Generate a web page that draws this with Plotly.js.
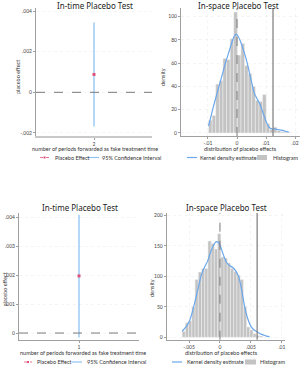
<!DOCTYPE html>
<html>
<head>
<meta charset="utf-8">
<script src="https://cdn.plot.ly/plotly-3.0.1.min.js"></script>
<style>
  html, body { margin: 0; padding: 0; background: #ffffff; }
  #chart { width: 300px; height: 366px; }
</style>
</head>
<body>
<div id="chart"></div>
<script>
// ---- In-time placebo test, treatment moved 2 periods forward ----
const periodsA = [2];
const effectA = [0.00088];
const ciLowA = [-0.00168];
const ciHighA = [0.00344];
const effectTicksA = [-0.002, 0, 0.002, 0.004];
const effectTickTextA = ['-.002', '0', '.002', '.004'];

// ---- In-time placebo test, treatment moved 1 period forward ----
const periodsB = [1];
const effectB = [0.00197];
const ciLowB = [-0.00015];
const ciHighB = [0.00408];
const effectTicksB = [0, 0.001, 0.002, 0.003, 0.004];
const effectTickTextB = ['0', '.001', '.002', '.003', '.004'];

// ---- In-space placebo distribution (upper) ----
const binWidthA = 0.00124;
const binCentersA = [-0.00918, -0.00794, -0.0067, -0.00546, -0.00422, -0.00298, -0.00174, -0.0005,
  0.00074, 0.00198, 0.00322, 0.00446, 0.0057, 0.00694, 0.00818, 0.00942, 0.01066, 0.0119,
  0.01314, 0.01438, 0.01562, 0.01686];
const binHeightsA = [11, 15, 42, 45, 64, 63, 81, 104, 67, 77, 58, 51, 40, 28, 27, 33, 8, 3, 5, 2, 1, 1];
const kdeXA = [-0.0098, -0.009, -0.008, -0.007, -0.006, -0.005, -0.004, -0.003, -0.002, -0.001, -0.0003,
  0.0004, 0.001, 0.002, 0.003, 0.004, 0.005, 0.006, 0.007, 0.008, 0.009, 0.010, 0.011, 0.012,
  0.013, 0.014, 0.015, 0.016, 0.017, 0.018];
const kdeYA = [6, 14, 24, 33, 42, 51, 60, 68, 76, 83, 85, 83, 80, 73, 65, 55, 44, 34, 29, 24, 17, 10, 5,
  3.5, 3.5, 3, 2.5, 2, 1.3, 0.6];
const actualEffectA = 0.0124;
const spreadTicksA = [-0.01, 0, 0.01, 0.02];
const spreadTickTextA = ['-.01', '0', '.01', '.02'];
const densityTicksA = [0, 20, 40, 60, 80, 100];

// ---- In-space placebo distribution (lower) ----
const binWidthB = 0.00052;
const binCentersB = [-0.00584, -0.00532, -0.0048, -0.00428, -0.00376, -0.00324, -0.00272, -0.0022,
  -0.00168, -0.00116, -0.00064, -0.00012, 0.0004, 0.00092, 0.00144, 0.00196, 0.00248, 0.003,
  0.00352, 0.00404, 0.00456, 0.00508, 0.0056, 0.00612, 0.00664];
const binHeightsB = [10, 24, 27, 50, 95, 107, 113, 113, 158, 154, 145, 170, 132, 130, 122, 113, 108,
  102, 95, 50, 17, 12, 6, 3, 2];
const kdeXB = [-0.0061, -0.0055, -0.005, -0.0045, -0.004, -0.0035, -0.003, -0.0025, -0.002, -0.0015,
  -0.001, -0.0006, -0.0002, 0.0002, 0.0006, 0.001, 0.0015, 0.002, 0.0025, 0.003, 0.0035, 0.004,
  0.0045, 0.005, 0.0055, 0.006, 0.0065, 0.007, 0.0075, 0.008];
const kdeYB = [10, 17, 25, 40, 60, 82, 102, 115, 125, 140, 152, 157, 155, 146, 134, 124, 118, 115, 110,
  100, 78, 50, 30, 18, 12, 9, 6, 4, 2, 1];
const actualEffectB = 0.006;
const spreadTicksB = [-0.005, 0, 0.005, 0.01];
const spreadTickTextB = ['-.005', '0', '.005', '.01'];
const densityTicksB = [0, 50, 100, 150, 200];

// ---- Text ----
const inTimeTitle = 'In-time Placebo Test';
const inSpaceTitle = 'In-space Placebo Test';
const effectAxisTitle = 'placebo effect';
const periodAxisTitle = 'number of periods forwarded as fake treatment time';
const densityAxisTitle = 'density';
const spreadAxisTitle = 'distribution of placebo effects';
const legendEffect = 'Placebo Effect';
const legendCI = '95% Confidence Interval';
const legendKde = 'Kernel density estimate';
const legendHist = 'Histogram';

// ---- Styling ----
const W = 300, H = 366;
const fx = p => p / W;
const fy = p => 1 - p / H;
const FONT = 'Lato, Noto Sans, sans-serif';
const TITLE_FONT = 'Noto Sans, Open Sans, sans-serif';
const ciColor = '#8ec3f5';
const dotColor = '#e0507a';
const kdeColor = '#6aa7ec';
const barColor = '#c3c3c3';
const axisColor = '#a0a0a0';
const refColor = '#7a7a7a';

function axisBase(extra) {
  return Object.assign({
    showline: true, linecolor: axisColor, linewidth: 1,
    ticks: 'outside', ticklen: 2, tickwidth: 1, tickcolor: axisColor,
    ticklabelstandoff: 0,
    tickfont: { family: FONT, size: 5, color: '#444' },
    showgrid: true, gridcolor: '#ededed', gridwidth: 0.6, griddash: 'dot',
    zeroline: false, fixedrange: true
  }, extra);
}

const traces = [
  // upper in-time
  { type: 'scatter', mode: 'lines', xaxis: 'x', yaxis: 'y',
    x: [periodsA[0], periodsA[0]], y: [ciLowA[0], ciHighA[0]],
    line: { color: ciColor, width: 1.3 }, hoverinfo: 'skip' },
  { type: 'scatter', mode: 'markers', xaxis: 'x', yaxis: 'y',
    x: periodsA, y: effectA, marker: { color: dotColor, size: 3, symbol: 'square' } },
  // lower in-time
  { type: 'scatter', mode: 'lines', xaxis: 'x3', yaxis: 'y3',
    x: [periodsB[0], periodsB[0]], y: [ciLowB[0], ciHighB[0]],
    line: { color: ciColor, width: 1.3 }, hoverinfo: 'skip' },
  { type: 'scatter', mode: 'markers', xaxis: 'x3', yaxis: 'y3',
    x: periodsB, y: effectB, marker: { color: dotColor, size: 3, symbol: 'square' } },
  // upper in-space
  { type: 'bar', xaxis: 'x2', yaxis: 'y2', x: binCentersA, y: binHeightsA,
    width: binCentersA.map(() => binWidthA),
    marker: { color: barColor, line: { color: '#f2f2f2', width: 0.5 } } },
  { type: 'scatter', mode: 'lines', xaxis: 'x2', yaxis: 'y2', x: kdeXA, y: kdeYA,
    line: { color: kdeColor, width: 1.2, shape: 'spline', smoothing: 0.8 } },
  // lower in-space
  { type: 'bar', xaxis: 'x4', yaxis: 'y4', x: binCentersB, y: binHeightsB,
    width: binCentersB.map(() => binWidthB),
    marker: { color: barColor, line: { color: '#f2f2f2', width: 0.5 } } },
  { type: 'scatter', mode: 'lines', xaxis: 'x4', yaxis: 'y4', x: kdeXB, y: kdeYB,
    line: { color: kdeColor, width: 1.2, shape: 'spline', smoothing: 0.8 } }
];

const shapes = [
  // zero reference lines
  { type: 'line', xref: 'x domain', yref: 'y', x0: 0, x1: 1, y0: 0, y1: 0,
    line: { color: refColor, width: 1, dash: 'dash' }, layer: 'above' },
  { type: 'line', xref: 'x3 domain', yref: 'y3', x0: 0, x1: 1, y0: 0, y1: 0,
    line: { color: refColor, width: 1, dash: 'dash' }, layer: 'above' },
  { type: 'line', xref: 'x2', yref: 'y2 domain', x0: 0, x1: 0, y0: 0, y1: 1,
    line: { color: refColor, width: 1, dash: 'dash' }, layer: 'above' },
  { type: 'line', xref: 'x4', yref: 'y4 domain', x0: 0, x1: 0, y0: 0, y1: 1,
    line: { color: refColor, width: 1, dash: 'dash' }, layer: 'above' },
  // actual estimated effect
  { type: 'line', xref: 'x2', yref: 'y2 domain', x0: actualEffectA, x1: actualEffectA, y0: 0, y1: 1,
    line: { color: refColor, width: 1.2 }, layer: 'above' },
  { type: 'line', xref: 'x4', yref: 'y4 domain', x0: actualEffectB, x1: actualEffectB, y0: 0, y1: 1,
    line: { color: refColor, width: 1.2 }, layer: 'above' }
];

const annotations = [];
function txt(text, x, y, opts) {
  annotations.push(Object.assign({
    text: text, xref: 'paper', yref: 'paper', x: fx(x), y: fy(y),
    xanchor: 'center', yanchor: 'middle', showarrow: false,
    font: { family: FONT, size: 5.5, color: '#333' }
  }, opts || {}));
}

// legend keys
function lineKey(x0, x1, y, color) {
  shapes.push({ type: 'line', xref: 'paper', yref: 'paper', x0: fx(x0), x1: fx(x1), y0: fy(y), y1: fy(y),
    line: { color: color, width: 1.2 } });
}
function dotKey(x0, x1, y) {
  shapes.push({ type: 'line', xref: 'paper', yref: 'paper', x0: fx(x0), x1: fx(x1), y0: fy(y), y1: fy(y),
    line: { color: dotColor, width: 0.8, dash: 'dot' } });
  const xm = (x0 + x1) / 2;
  shapes.push({ type: 'rect', xref: 'paper', yref: 'paper', x0: fx(xm - 1), x1: fx(xm + 1), y0: fy(y + 1), y1: fy(y - 1),
    line: { width: 0 }, fillcolor: dotColor });
}
function boxKey(x0, x1, y) {
  shapes.push({ type: 'rect', xref: 'paper', yref: 'paper', x0: fx(x0), x1: fx(x1), y0: fy(y + 2.5), y1: fy(y - 2.5),
    line: { width: 0 }, fillcolor: barColor });
}

// titles
const titleFont = { family: TITLE_FONT, size: 8, color: '#222' };
txt(inTimeTitle, 95, 5, { font: titleFont });
txt(inSpaceTitle, 238, 5, { font: titleFont });
txt(inTimeTitle, 80, 207, { font: titleFont });
txt(inSpaceTitle, 226, 207, { font: titleFont });

// axis titles
txt(effectAxisTitle, 18, 77, { textangle: -90 });
txt(periodAxisTitle, 95, 148.5);
txt(densityAxisTitle, 163, 77, { textangle: -90 });
txt(spreadAxisTitle, 240, 148.5);
txt(effectAxisTitle, 4.5, 290, { textangle: -90 });
txt(periodAxisTitle, 83, 353);
txt(densityAxisTitle, 152, 288, { textangle: -90 });
txt(spreadAxisTitle, 221, 353);

// legends
dotKey(40, 49, 157.5);
txt(legendEffect, 53, 157.5, { xanchor: 'left' });
lineKey(87, 99, 157.5, ciColor);
txt(legendCI, 100, 157.5, { xanchor: 'left' });
lineKey(187, 197, 157.5, kdeColor);
txt(legendKde, 198, 157.5, { xanchor: 'left' });
boxKey(257, 267, 157.5);
txt(legendHist, 271, 157.5, { xanchor: 'left' });

dotKey(24, 32, 362);
txt(legendEffect, 35, 362, { xanchor: 'left' });
lineKey(72, 82, 362, ciColor);
txt(legendCI, 85, 362, { xanchor: 'left' });
lineKey(172, 182, 362, kdeColor);
txt(legendKde, 185, 362, { xanchor: 'left' });
boxKey(245, 256, 362);
txt(legendHist, 258, 362, { xanchor: 'left' });

const layout = {
  width: W, height: H,
  margin: { l: 0, r: 0, t: 0, b: 0 },
  paper_bgcolor: '#ffffff', plot_bgcolor: '#ffffff',
  showlegend: false, bargap: 0,
  font: { family: FONT },
  // upper in-time
  xaxis: axisBase({ domain: [fx(36), fx(152)], anchor: 'y', range: [1.5, 2.5],
    tickvals: periodsA, ticktext: periodsA.map(String), showgrid: false, linewidth: 2, linecolor: '#c8c8c8' }),
  yaxis: axisBase({ domain: [fy(136), fy(8)], anchor: 'x', range: [-0.00215, 0.00415],
    tickvals: effectTicksA, ticktext: effectTickTextA }),
  // upper in-space
  xaxis2: axisBase({ domain: [fx(181), fx(300)], anchor: 'y2', range: [-0.0193, 0.0217],
    tickvals: spreadTicksA, ticktext: spreadTickTextA }),
  yaxis2: axisBase({ domain: [fy(136), fy(8)], anchor: 'x2', range: [-2.6, 107.5],
    tickvals: densityTicksA, ticktext: densityTicksA.map(String) }),
  // lower in-time
  xaxis3: axisBase({ domain: [fx(19), fx(139)], anchor: 'y3', range: [0.5, 1.5],
    tickvals: periodsB, ticktext: periodsB.map(String), showgrid: false }),
  yaxis3: axisBase({ domain: [fy(340), fy(213)], anchor: 'x3', range: [-0.00024, 0.00414],
    tickvals: effectTicksB, ticktext: effectTickTextB }),
  // lower in-space
  xaxis4: axisBase({ domain: [fx(166.7), fx(285)], anchor: 'y4', range: [-0.0086, 0.0105],
    tickvals: spreadTicksB, ticktext: spreadTickTextB }),
  yaxis4: axisBase({ domain: [fy(339.7), fy(213)], anchor: 'x4', range: [-3.9, 204],
    tickvals: densityTicksB, ticktext: densityTicksB.map(String) }),
  shapes: shapes,
  annotations: annotations
};

Plotly.newPlot('chart', traces, layout, { staticPlot: true, displayModeBar: false });
</script>
</body>
</html>
